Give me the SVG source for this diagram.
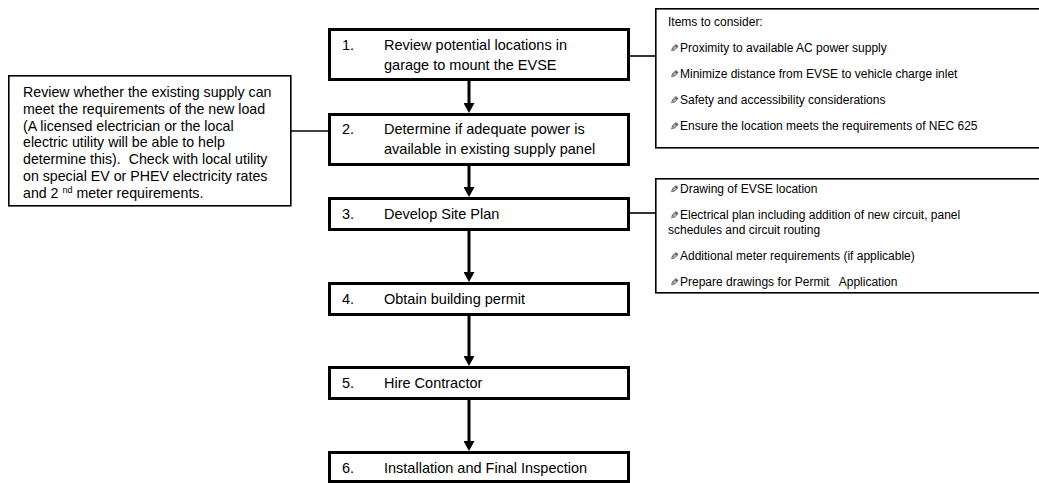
<svg xmlns="http://www.w3.org/2000/svg" width="1039" height="483" viewBox="0 0 1039 483">
<style>
  .step { fill: #fff; stroke: #000; stroke-width: 3; }
  .note { fill: #fff; stroke: #000; stroke-width: 1.6; }
  .st { font-family: "Liberation Sans", Arial, sans-serif; font-size: 14.5px; fill: #000; }
  .nt { font-family: "Liberation Sans", Arial, sans-serif; font-size: 14.2px; fill: #000; }
  .rt { font-family: "Liberation Sans", Arial, sans-serif; font-size: 12px; fill: #000; }
  .bl { font-family: "DejaVu Sans", sans-serif; font-size: 10.5px; fill: #000; }
  .conn { stroke: #000; stroke-width: 1.6; fill: none; }
  .arr { stroke: #000; stroke-width: 3; fill: none; }
</style>
<defs>
  <marker id="ah" viewBox="0 0 10 11" markerWidth="10" markerHeight="11" refX="0" refY="5.5" orient="auto" markerUnits="userSpaceOnUse">
    <path d="M0,0 L10,5.5 L0,11 z" fill="#000"/>
  </marker>
</defs>
<rect width="1039" height="483" fill="#fff"/>

<g id="connectors">
  <line class="conn" x1="629" y1="56" x2="656" y2="56"/>
  <line class="conn" x1="291" y1="131" x2="329" y2="131"/>
  <line class="conn" x1="629" y1="213" x2="656" y2="213"/>
  <line class="arr" x1="469" y1="81" x2="469" y2="103" marker-end="url(#ah)"/>
  <line class="arr" x1="469" y1="166" x2="469" y2="187" marker-end="url(#ah)"/>
  <line class="arr" x1="469" y1="231" x2="469" y2="272" marker-end="url(#ah)"/>
  <line class="arr" x1="469" y1="316" x2="469" y2="356" marker-end="url(#ah)"/>
  <line class="arr" x1="469" y1="400" x2="469" y2="441" marker-end="url(#ah)"/>
</g>

<g id="step1">
  <rect class="step" x="329.5" y="29.5" width="299" height="50"/>
  <text class="st" x="342" y="50">1.</text>
  <text class="st" x="384" y="50">Review potential locations in</text>
  <text class="st" x="384" y="70">garage to mount the EVSE</text>
</g>
<g id="step2">
  <rect class="step" x="329.5" y="114.5" width="299" height="50"/>
  <text class="st" x="342" y="134">2.</text>
  <text class="st" x="384" y="134">Determine if adequate power is</text>
  <text class="st" x="384" y="154">available in existing supply panel</text>
</g>
<g id="step3">
  <rect class="step" x="329.5" y="198.5" width="299" height="31"/>
  <text class="st" x="342" y="219">3.</text>
  <text class="st" x="384" y="219">Develop Site Plan</text>
</g>
<g id="step4">
  <rect class="step" x="329.5" y="283.5" width="299" height="31"/>
  <text class="st" x="342" y="304">4.</text>
  <text class="st" x="384" y="304">Obtain building permit</text>
</g>
<g id="step5">
  <rect class="step" x="329.5" y="367.5" width="299" height="31"/>
  <text class="st" x="342" y="388">5.</text>
  <text class="st" x="384" y="388">Hire Contractor</text>
</g>
<g id="step6">
  <rect class="step" x="329.5" y="452.5" width="299" height="29"/>
  <text class="st" x="342" y="473">6.</text>
  <text class="st" x="384" y="473">Installation and Final Inspection</text>
</g>

<g id="note-supply">
  <rect class="note" x="8.8" y="75.8" width="282" height="130"/>
  <text class="nt" x="23" y="97">Review whether the existing supply can</text>
  <text class="nt" x="23" y="113.8">meet the requirements of the new load</text>
  <text class="nt" x="23" y="130.6">(A licensed electrician or the local</text>
  <text class="nt" x="23" y="147.4">electric utility will be able to help</text>
  <text class="nt" x="23" y="164.2" xml:space="preserve">determine this).  Check with local utility</text>
  <text class="nt" x="23" y="181">on special EV or PHEV electricity rates</text>
  <text class="nt" x="23" y="197.8" xml:space="preserve">and 2 <tspan font-size="9" dy="-5">nd</tspan><tspan dy="5"> meter requirements.</tspan></text>
</g>

<g id="note-location">
  <rect class="note" x="655.8" y="8.8" width="400" height="139"/>
  <text class="rt" x="668" y="26">Items to consider:</text>
  <text class="bl" transform="translate(679,52) scale(-1,1)">✎</text>
  <text class="rt" x="680" y="52">Proximity to available AC power supply</text>
  <text class="bl" transform="translate(679,78) scale(-1,1)">✎</text>
  <text class="rt" x="680" y="78">Minimize distance from EVSE to vehicle charge inlet</text>
  <text class="bl" transform="translate(679,104) scale(-1,1)">✎</text>
  <text class="rt" x="680" y="104">Safety and accessibility considerations</text>
  <text class="bl" transform="translate(679,130) scale(-1,1)">✎</text>
  <text class="rt" x="680" y="130">Ensure the location meets the requirements of NEC 625</text>
</g>

<g id="note-siteplan">
  <rect class="note" x="655.8" y="178.8" width="400" height="114"/>
  <text class="bl" transform="translate(679,193) scale(-1,1)">✎</text>
  <text class="rt" x="680" y="193">Drawing of EVSE location</text>
  <text class="bl" transform="translate(679,219) scale(-1,1)">✎</text>
  <text class="rt" x="680" y="219">Electrical plan including addition of new circuit, panel</text>
  <text class="rt" x="668" y="234">schedules and circuit routing</text>
  <text class="bl" transform="translate(679,260) scale(-1,1)">✎</text>
  <text class="rt" x="680" y="260">Additional meter requirements (if applicable)</text>
  <text class="bl" transform="translate(679,286) scale(-1,1)">✎</text>
  <text class="rt" x="680" y="286" xml:space="preserve">Prepare drawings for Permit   Application</text>
</g>
</svg>
